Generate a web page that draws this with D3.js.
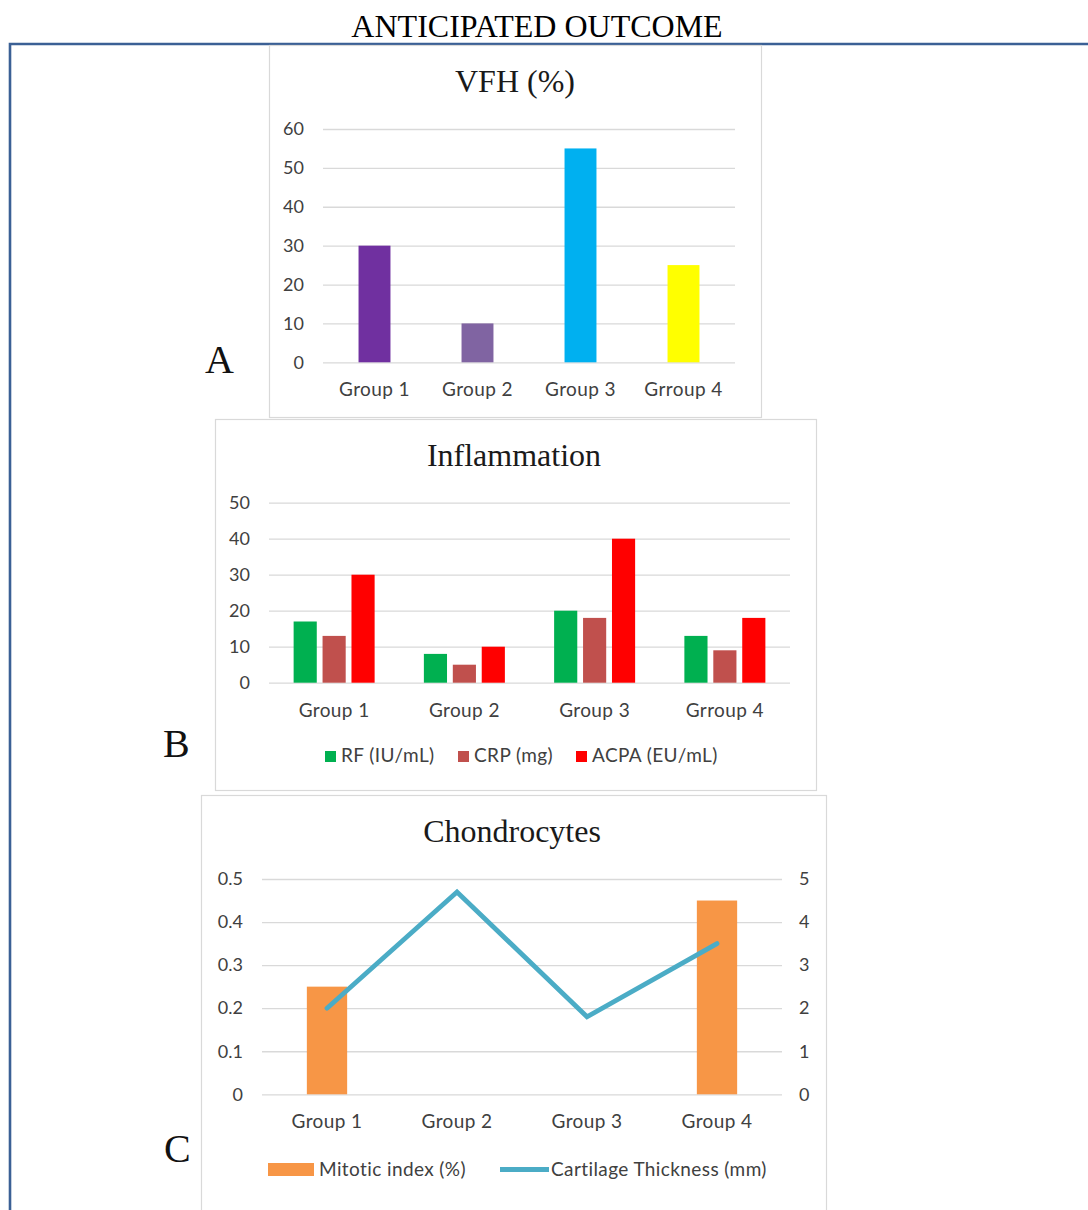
<!DOCTYPE html>
<html><head><meta charset="utf-8">
<script src="https://cdn.jsdelivr.net/npm/d3@7"></script>
<style>html,body{margin:0;padding:0;background:#fff;} svg{display:block;}</style>
</head><body>
<script>
// ---------- DATA ----------
const mainTitle = "ANTICIPATED OUTCOME";

const titleA = "VFH (%)";
const groupsA = ["Group 1", "Group 2", "Group 3", "Grroup 4"];
const vfhValues = [30, 10, 55, 25];
const vfhColors = ["#7030a0", "#8064a2", "#00b0f0", "#ffff00"];
const vfhTicks = [0, 10, 20, 30, 40, 50, 60];

const titleB = "Inflammation";
const groupsB = ["Group 1", "Group 2", "Group 3", "Grroup 4"];
const seriesB = ["RF (IU/mL)", "CRP (mg)", "ACPA (EU/mL)"];
const seriesBColors = ["#00b050", "#c0504d", "#ff0000"];
const rfValues = [17, 8, 20, 13];
const crpValues = [13, 5, 18, 9];
const acpaValues = [30, 10, 40, 18];
const inflTicks = [0, 10, 20, 30, 40, 50];

const titleC = "Chondrocytes";
const groupsC = ["Group 1", "Group 2", "Group 3", "Group 4"];
const seriesC = ["Mitotic index (%)", "Cartilage Thickness (mm)"];
const mitoticValues = [0.25, 0, 0, 0.45];
const cartilageValues = [2.0, 4.7, 1.8, 3.5];
const leftTicksC = [0, 0.1, 0.2, 0.3, 0.4, 0.5];
const rightTicksC = [0, 1, 2, 3, 4, 5];

const panelLetters = ["A", "B", "C"];

// ---------- STYLE ----------
const W = 1088, H = 1210;
const SERIF = "'Liberation Serif','Times New Roman',serif";
const SANS = "Lato,'Open Sans',sans-serif";
const TXT = "#404040";
const GRID = "#d9d9d9";
const LBL = 19, LSP = "0.4px";

const svg = d3.select("body").append("svg").attr("width", W).attr("height", H);
svg.append("rect").attr("width", W).attr("height", H).attr("fill", "#fff");

// outer frame
svg.append("path").attr("d", "M10,1212 L10,44 L1090,44")
  .attr("fill", "none").attr("stroke", "#3b6095").attr("stroke-width", 2.6);

svg.append("text").attr("x", 537).attr("y", 37).attr("text-anchor", "middle")
  .attr("font-family", SERIF).attr("font-size", 32).attr("fill", "#000").text(mainTitle);

function panelBox(x0, y0, x1, y1) {
  svg.append("rect").attr("x", x0 + 0.5).attr("y", y0 + 0.5)
    .attr("width", x1 - x0).attr("height", y1 - y0)
    .attr("fill", "#fff").attr("stroke", GRID).attr("stroke-width", 1.2);
}
function title(x, y, t) {
  svg.append("text").attr("x", x).attr("y", y).attr("text-anchor", "middle")
    .attr("font-family", SERIF).attr("font-size", 32).attr("fill", "#1a1a1a").text(t);
}
function leftAxis(g, y, ticks, width, fmt) {
  const ax = g.append("g").call(d3.axisLeft(y).tickValues(ticks).tickSize(-width).tickPadding(19).tickFormat(fmt));
  ax.select(".domain").remove();
  ax.selectAll("line").attr("stroke", GRID).attr("stroke-width", 1.3);
  ax.selectAll("text").attr("fill", TXT).attr("font-family", SANS).attr("font-size", 18);
  return ax;
}
function catAxis(g, x, yPos) {
  const ax = g.append("g").attr("transform", `translate(0,${yPos})`)
    .call(d3.axisBottom(x).tickSize(0));
  ax.select(".domain").remove();
  ax.selectAll("text").attr("fill", TXT).attr("font-family", SANS).attr("font-size", LBL)
    .attr("letter-spacing", LSP).attr("dy", 0).attr("y", 34);
}
function legendText(g, x, y, t) {
  g.append("text").attr("x", x).attr("y", y).attr("font-family", SANS).attr("font-size", LBL)
    .attr("letter-spacing", LSP).attr("fill", TXT).text(t);
}
function letter(x, y, t) {
  svg.append("text").attr("x", x).attr("y", y).attr("font-family", SERIF)
    .attr("font-size", 40).attr("fill", "#111").text(t);
}

// ---------- PANEL A ----------
panelBox(269, 45, 761, 417);
title(515, 92, titleA);
{
  const L = 323, R = 735, T = 129, B = 362.3;
  const g = svg.append("g");
  const x = d3.scaleBand().domain(groupsA).range([L, R]).paddingInner(0.69).paddingOuter(0.345);
  const y = d3.scaleLinear().domain([0, 60]).range([B, T]);
  leftAxis(g.append("g").attr("transform", `translate(${L},0)`), y, vfhTicks, R - L, d3.format("d"));
  g.selectAll("rect.bar").data(vfhValues).join("rect").attr("class", "bar")
    .attr("x", (d, i) => x(groupsA[i])).attr("width", x.bandwidth())
    .attr("y", d => y(d)).attr("height", d => B - y(d))
    .attr("fill", (d, i) => vfhColors[i]);
  catAxis(g, x, B);
}
letter(205, 373, panelLetters[0]);

// ---------- PANEL B ----------
panelBox(215, 419, 816, 790);
title(514, 466, titleB);
{
  const L = 269, R = 790, T = 502.7, B = 682.7;
  const g = svg.append("g");
  const x0 = d3.scaleBand().domain(groupsB).range([L, R]);
  const half = 40.5;
  const x1 = d3.scaleBand().domain(seriesB).range([-half, half]).paddingInner(0.2);
  const y = d3.scaleLinear().domain([0, 50]).range([B, T]);
  leftAxis(g.append("g").attr("transform", `translate(${L},0)`), y, inflTicks, R - L, d3.format("d"));
  const rows = groupsB.map((grp, i) => ({grp, vals: [rfValues[i], crpValues[i], acpaValues[i]]}));
  const gg = g.selectAll("g.grp").data(rows).join("g").attr("class", "grp")
    .attr("transform", d => `translate(${x0(d.grp) + x0.bandwidth() / 2},0)`);
  gg.selectAll("rect").data(d => d.vals.map((v, k) => ({s: seriesB[k], v, k}))).join("rect")
    .attr("x", d => x1(d.s)).attr("width", x1.bandwidth())
    .attr("y", d => y(d.v)).attr("height", d => B - y(d.v))
    .attr("fill", d => seriesBColors[d.k]);
  catAxis(g, x0, B);
  // legend
  const legX = [325, 458, 576];
  seriesB.forEach((s, k) => {
    g.append("rect").attr("x", legX[k]).attr("y", 751).attr("width", 11).attr("height", 11).attr("fill", seriesBColors[k]);
    legendText(g, legX[k] + 16, 762, s);
  });
}
letter(163, 757, panelLetters[1]);

// ---------- PANEL C ----------
panelBox(201, 795, 826, 1220);
title(512, 842, titleC);
{
  const L = 262, R = 782, T = 879, B = 1094.3;
  const g = svg.append("g");
  const x = d3.scaleBand().domain(groupsC).range([L, R]).paddingInner(0.69).paddingOuter(0.345);
  const yL = d3.scaleLinear().domain([0, 0.5]).range([B, T]);
  const yR = d3.scaleLinear().domain([0, 5]).range([B, T]);
  leftAxis(g.append("g").attr("transform", `translate(${L},0)`), yL, leftTicksC, R - L, d3.format(".1~f"));
  const axR = g.append("g").attr("transform", `translate(${R},0)`)
    .call(d3.axisRight(yR).tickValues(rightTicksC).tickSize(0).tickPadding(17).tickFormat(d3.format("d")));
  axR.select(".domain").remove();
  axR.selectAll("text").attr("fill", TXT).attr("font-family", SANS).attr("font-size", 18);
  g.selectAll("rect.bar").data(mitoticValues).join("rect").attr("class", "bar")
    .attr("x", (d, i) => x(groupsC[i])).attr("width", x.bandwidth())
    .attr("y", d => yL(d)).attr("height", d => B - yL(d))
    .attr("fill", "#f79646");
  const line = d3.line().x((d, i) => x(groupsC[i]) + x.bandwidth() / 2).y(d => yR(d));
  g.append("path").datum(cartilageValues).attr("d", line)
    .attr("fill", "none").attr("stroke", "#4bacc6").attr("stroke-width", 4.8)
    .attr("stroke-linejoin", "miter").attr("stroke-linecap", "round");
  catAxis(g, x, B);
  // legend
  g.append("rect").attr("x", 268).attr("y", 1163).attr("width", 46).attr("height", 13).attr("fill", "#f79646");
  legendText(g, 319, 1176, seriesC[0]);
  g.append("line").attr("x1", 500).attr("x2", 549).attr("y1", 1169.5).attr("y2", 1169.5)
    .attr("stroke", "#4bacc6").attr("stroke-width", 4.8);
  legendText(g, 551, 1176, seriesC[1]);
}
letter(164, 1162, panelLetters[2]);
</script>
</body></html>
